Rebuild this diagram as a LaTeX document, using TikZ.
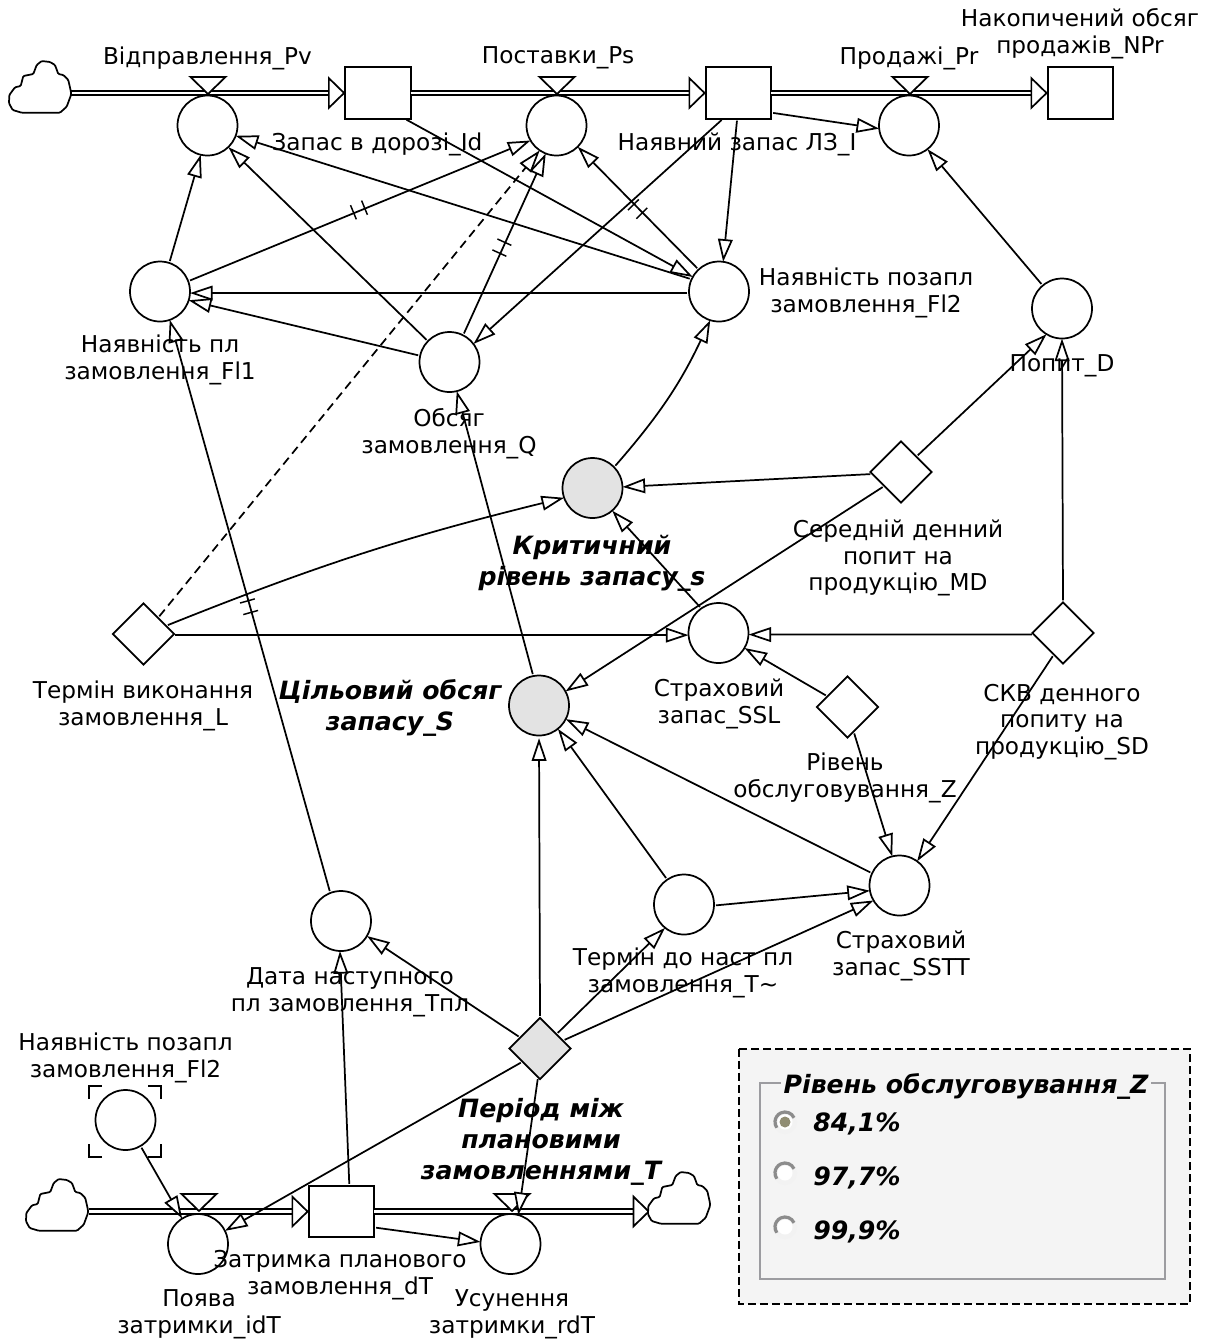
\documentclass[tikz,border=0pt]{standalone}
\usepackage{fontspec}
\setmainfont{DejaVu Sans}
\usetikzlibrary{arrows.meta,shapes.geometric,decorations.markings}
\definecolor{panelgrey}{HTML}{F4F4F4}
\definecolor{framegrey}{HTML}{9C9CA0}
\definecolor{keygrey}{HTML}{E3E3E3}
\tikzset{
  vaux/.style={circle,draw,line width=1.3pt,fill=white,minimum size=45pt,inner sep=0pt,outer sep=0pt},
  vkey/.style={vaux,fill=keygrey},
  vconst/.style={diamond,draw,line width=1.3pt,fill=white,minimum width=46pt,minimum height=46pt,inner sep=0pt,outer sep=0pt},
  vconstkey/.style={vconst,fill=keygrey},
  vstock/.style={rectangle,draw,line width=1.3pt,fill=white,minimum width=49pt,minimum height=38.5pt,inner sep=0pt,outer sep=0pt},
  lab/.style={align=center,inner sep=0pt,font=\fontsize{17.4}{20}\selectfont},
  blab/.style={align=center,inner sep=0pt,font=\fontsize{18.9}{23}\selectfont\bfseries\itshape},
  link/.style={line width=1.3pt,shorten <=1.5pt,-{Triangle[open,fill=white,length=17pt,width=11pt,line width=1.3pt]}},
  flow/.style={line width=1.5pt,double,double distance=2pt,-{Triangle[open,fill=white,length=13pt,width=25pt,line width=1.3pt]}},
  hatch/.style={postaction={decorate},decoration={markings,mark=at position #1 with {
     \draw[-,line width=1.1pt] (-4.5pt,-6.5pt)--(-4.5pt,6.5pt);
     \draw[-,line width=1.1pt] (4.5pt,-6.5pt)--(4.5pt,6.5pt);}}},
  pics/vcloud/.style={code={
    \draw[line width=1.3pt,fill=white,rounded corners=0.8pt]
      (62,31)--(59.3,19)--(54.3,14)--(49.3,13)--(46,4)--(41,1)--(32.7,0)--(27.7,4)--(24.3,13)--(14.3,15)--(11.7,25)--(6,26.3)--(.3,34)--(0,42.3)--(3.7,49)--(12.7,51.7)--(51,51.7)--(57.7,45.7)--(62,34)--cycle;}},
  pics/vvalve/.style={code={
    \draw[line width=1.3pt,fill=white,line join=miter] (-17.5,-17)--(17.5,-17)--(0,0)--cycle;}},
  pics/vradio/.style={code={
    \fill[color=white!95!black] (0,0) circle[radius=12];
    \draw[line width=2.4pt,color=gray!90] (-25:10) arc[start angle=-25,end angle=-215,radius=10];
    \fill[white] (0,0) circle[radius=7.5];}},
}
\begin{document}
\begin{tikzpicture}[x=0.75pt,y=-0.75pt]
\useasboundingbox (0,0) rectangle (1207,1340);
% panel
\draw[line width=1.1pt,fill=panelgrey,dash pattern=on 6pt off 3pt] (739,1049) rectangle (1190,1304);
\draw[line width=1.5pt,color=framegrey] (760,1083) rectangle (1165,1279);
% coordinates for cloud ends
\coordinate (c1) at (71,93);
\coordinate (c2) at (89,1211.5);
\coordinate (c3) at (650,1211.5);
% stocks
\node[vstock] (Id) at (378,93) {};
\node[vstock] (I) at (738.5,93) {};
\node[vstock] (NPr) at (1080.5,93) {};
\node[vstock] (dT) at (341.5,1211.5) {};
% flows
\draw[flow] (c1) -- (Id.west);
\draw[flow] (Id.east) -- (I.west);
\draw[flow] (I.east) -- (NPr.west);
\draw[flow] (c2) -- (dT.west);
\draw[flow] (dT.east) -- (c3);
% clouds
\pic at (9,61) {vcloud};
\pic at (26,1179) {vcloud};
\pic at (648,1172) {vcloud};
% auxiliaries
\node[vaux] (Pv) at (207.5,125.5) {};
\node[vaux] (Ps) at (556.5,125.5) {};
\node[vaux] (Pr) at (909,125.5) {};
\node[vaux] (Fl1) at (160,291.5) {};
\node[vaux] (Fl2) at (719,291.5) {};
\node[vaux] (Q) at (449.5,362) {};
\node[vaux] (D) at (1062,308.5) {};
\node[vkey] (s) at (592.5,488) {};
\node[vkey] (S) at (539,705.5) {};
\node[vaux] (SSL) at (718.5,633) {};
\node[vaux] (SSTT) at (899.5,885.5) {};
\node[vaux] (Tn) at (684,904.5) {};
\node[vaux] (Tpl) at (341,921) {};
\node[vaux] (gFl2) at (125.5,1120) {};
\node[vaux] (idT) at (198,1244) {};
\node[vaux] (rdT) at (510.5,1244) {};
% constants
\node[vconst] (MD) at (901,472) {};
\node[vconst] (L) at (143.5,634) {};
\node[vconst] (SD) at (1063,633) {};
\node[vconst] (Z) at (847.5,707) {};
\node[vconstkey] (T) at (540,1048.5) {};
% valves
\pic at (208,94) {vvalve};
\pic at (557,94) {vvalve};
\pic at (910,94) {vvalve};
\pic at (199,1211) {vvalve};
\pic at (512,1211) {vvalve};
% ghost brackets
\draw[line width=1.3pt] (89,1099)--(89,1086)--(102,1086) (148,1086)--(161,1086)--(161,1099)
  (161,1144)--(161,1157)--(148,1157) (102,1157)--(89,1157)--(89,1144);
% links
\draw[link] (Fl1.72) -- (Pv.257);
\draw[link] (Q.136) -- (Pv.-46);
\draw[link] (Fl2.156) -- (Pv.-20);
\draw[link,hatch=0.5] (Fl1.20) -- (Ps.210);
\draw[link,hatch=0.48] (Q.63) -- (Ps.249);
\draw[link,dash pattern=on 6.5pt off 4pt] (L.48) -- (Ps.236);
\draw[link,hatch=0.5] (Fl2.133) -- (Ps.-45);
\draw[link] (Id.-44) -- (Fl2.151);
\draw[link] (I.239) -- (Q.37);
\draw[link] (I.267) -- (Fl2.82);
\draw[link] (I.-31.6) -- (Pr.186);
\draw[link] (D.130) -- (Pr.-52);
\draw[link] (MD.45) -- (D.239);
\draw[link] (SD.north) -- (D.270);
\draw[link] (Q.168) -- (Fl1.-17);
\draw[link] (Fl2.183) -- (Fl1.-3);
\draw[link,hatch=0.5] (Tpl.111) -- (Fl1.-71);
\draw[link] (s.44) to[bend right=8] (Fl2.253);
\draw[link] (L.20) to[bend left=4] (s.199);
\draw[link] (MD.184) -- (s.2);
\draw[link] (MD.220) -- (S.28);
\draw[link] (SSL.125) -- (s.-49);
\draw[link] (L.-2) -- (SSL.184);
\draw[link] (SD.183) -- (SSL.-3);
\draw[link] (Z.152) -- (SSL.-30);
\draw[link] (Z.-76) -- (SSTT.104);
\draw[link] (SD.247) -- (SSTT.54);
\draw[link] (SSTT.156) -- (S.-27);
\draw[link] (Tn.124) -- (S.-51);
\draw[link,shorten >=2pt] (T.north) -- (S.south);
\draw[link] (T.41) -- (Tn.231);
\draw[link] (T.19) -- (SSTT.210);
\draw[link] (Tn.-2) -- (SSTT.190);
\draw[link] (T.151) -- (Tpl.-30);
\draw[link] (T.217) -- (idT.26);
\draw[link] (T.266) -- (rdT.75);
\draw[link] (dT.73) -- (Tpl.268);
\draw[link] (dT.-26) -- (rdT.176);
\draw[link] (gFl2.-60) -- (idT.122);
\draw[link] (S.101) -- (Q.-76);
% labels
\node[lab] (tPv) at (207.5,58) {Відправлення\_Pv};
\node[lab] (tPs) at (558,58) {Поставки\_Ps};
\node[lab] (tPr) at (909,58) {Продажі\_Pr};
\node[lab] (tNPr) at (1080,34) {Накопичений обсяг\\продажів\_NPr};
\node[lab] (tId) at (377,144) {Запас в дорозі\_Id};
\node[lab] (tI) at (737,144) {Наявний запас ЛЗ\_I};
\node[lab] (tFl2) at (866,293) {Наявність позапл\\замовлення\_Fl2};
\node[lab] (tD) at (1062,366) {Попит\_D};
\node[lab] (tFl1) at (160,360) {Наявність пл\\замовлення\_Fl1};
\node[lab] (tQ) at (449,434) {Обсяг\\замовлення\_Q};
\node[blab] (ts) at (592,563) {Критичний\\рівень запасу\_s};
\node[lab] (tMD) at (898,558) {Середній денний\\попит на\\продукцію\_MD};
\node[lab] (tL) at (143,706) {Термін виконання\\замовлення\_L};
\node[blab] (tS) at (390,708) {Цільовий обсяг\\запасу\_S};
\node[lab] (tSSL) at (719,704) {Страховий\\запас\_SSL};
\node[lab] (tSD) at (1062,722) {СКВ денного\\попиту на\\продукцію\_SD};
\node[lab] (tZ) at (845,778) {Рівень\\обслуговування\_Z};
\node[lab] (tSSTT) at (901,956) {Страховий\\запас\_SSTT};
\node[lab] (tTn) at (683,973) {Термін до наст пл\\замовлення\_T\textasciitilde};
\node[lab] (tTpl) at (350,992) {Дата наступного\\пл замовлення\_Тпл};
\node[lab] (tg) at (125.5,1058) {Наявність позапл\\замовлення\_Fl2};
\node[blab] (tT) at (541,1142) {Період між\\плановими\\замовленнями\_T};
\node[lab] (tdT) at (340,1275) {Затримка планового\\замовлення\_dT};
\node[lab] (tidT) at (199,1314) {Поява\\затримки\_idT};
\node[lab] (trdT) at (512,1314) {Усунення\\затримки\_rdT};
% input panel
\node[blab,fill=panelgrey,inner xsep=2pt] (tZp) at (966,1086) {Рівень обслуговування\_Z};
\pic at (785,1122) {vradio};
\pic at (785,1173) {vradio};
\pic at (785,1227) {vradio};
\fill[color=gray!80!olive] (785,1122) circle[radius=5.5];
\node[blab,anchor=west] (r1) at (813,1124) {84,1\%};
\node[blab,anchor=west] (r2) at (813,1178) {97,7\%};
\node[blab,anchor=west] (r3) at (813,1232) {99,9\%};
\end{tikzpicture}
\end{document}
